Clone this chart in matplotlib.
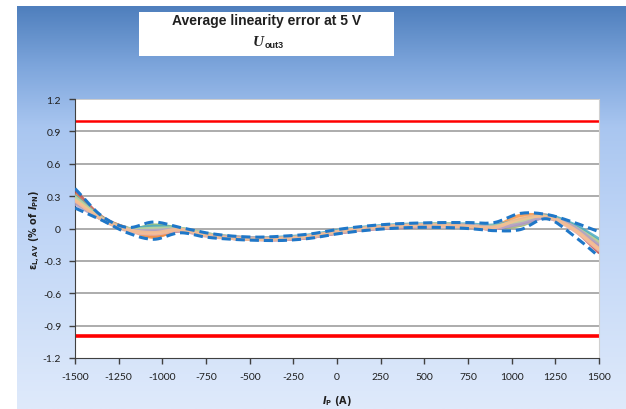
import numpy as np
import matplotlib
matplotlib.use("Agg")
import matplotlib.pyplot as plt
from matplotlib.colors import LinearSegmentedColormap
from matplotlib.patches import Rectangle

# ---------- data ----------
current = [-1500, -1350, -1200, -1050, -900, -750, -600, -450, -300, -150, 0,
           150, 300, 450, 600, 750, 900, 1050, 1200, 1350, 1500]

env_upper = [0.37, 0.12, 0.01, 0.06, 0.01, -0.04, -0.07, -0.08, -0.07, -0.05, -0.01,
             0.02, 0.04, 0.05, 0.055, 0.055, 0.055, 0.14, 0.13, 0.06, -0.03]
env_lower = [0.19, 0.08, -0.04, -0.10, -0.04, -0.08, -0.10, -0.11, -0.11, -0.09, -0.05,
             -0.02, 0.0, 0.01, 0.01, 0.0, -0.02, -0.01, 0.09, -0.06, -0.26]

sample_1 = [0.35, 0.11, 0.0, -0.07, -0.02, -0.06, -0.09, -0.10, -0.10, -0.08, -0.04,
            -0.01, 0.01, 0.02, 0.03, 0.02, 0.0, 0.08, 0.12, 0.0, -0.22]
sample_2 = [0.31, 0.10, 0.0, -0.08, -0.01, -0.06, -0.08, -0.09, -0.09, -0.07, -0.03,
            0.0, 0.02, 0.03, 0.03, 0.03, 0.02, 0.12, 0.11, 0.02, -0.18]
sample_3 = [0.28, 0.10, -0.01, 0.03, 0.0, -0.05, -0.08, -0.09, -0.09, -0.07, -0.03,
            0.0, 0.02, 0.03, 0.04, 0.03, 0.01, 0.03, 0.11, 0.03, -0.12]
sample_4 = [0.25, 0.09, -0.01, -0.03, -0.02, -0.06, -0.09, -0.10, -0.10, -0.08, -0.04,
            -0.01, 0.01, 0.02, 0.03, 0.02, 0.0, 0.05, 0.10, 0.01, -0.15]
sample_5 = [0.30, 0.10, 0.0, 0.02, 0.0, -0.05, -0.08, -0.09, -0.08, -0.06, -0.02,
            0.01, 0.03, 0.04, 0.04, 0.04, 0.03, 0.08, 0.12, 0.04, -0.10]
sample_6 = [0.27, 0.09, -0.02, -0.05, -0.02, -0.07, -0.09, -0.10, -0.10, -0.08, -0.04,
            -0.01, 0.01, 0.02, 0.02, 0.02, 0.0, 0.06, 0.10, -0.01, -0.20]
sample_7 = [0.29, 0.10, 0.0, 0.0, 0.0, -0.05, -0.08, -0.09, -0.09, -0.07, -0.03,
            0.0, 0.02, 0.03, 0.04, 0.03, 0.02, 0.07, 0.11, 0.02, -0.13]
sample_8 = [0.23, 0.09, -0.01, -0.02, -0.01, -0.06, -0.08, -0.09, -0.09, -0.07, -0.03,
            0.0, 0.02, 0.03, 0.03, 0.03, 0.01, 0.04, 0.10, 0.02, -0.16]
sample_9 = [0.26, 0.09, -0.01, -0.04, -0.01, -0.06, -0.09, -0.10, -0.09, -0.07, -0.03,
            0.0, 0.02, 0.03, 0.03, 0.02, 0.01, 0.09, 0.11, 0.0, -0.19]

limit = 1.0
x_ticks = [-1500, -1250, -1000, -750, -500, -250, 0, 250, 500, 750, 1000, 1250, 1500]
y_ticks = [1.2, 0.9, 0.6, 0.3, 0, -0.3, -0.6, -0.9, -1.2]
y_tick_labels = ["1.2", "0.9", "0.6", "0.3", "0", "-0.3", "-0.6", "-0.9", "-1.2"]

samples = [sample_1, sample_2, sample_3, sample_4, sample_5,
           sample_6, sample_7, sample_8, sample_9]
sample_colors = ["#c0504d", "#f79646", "#9bbb59", "#8064a2", "#4bacc6",
                 "#e6b9b8", "#c3d69b", "#b3a2c7", "#fac090"]


def smooth(xs, ys, n=12):
    # Catmull-Rom, close to Excel's "smoothed line" rendering
    xs = np.asarray(xs, float)
    ys = np.asarray(ys, float)
    px = np.concatenate([[2 * xs[0] - xs[1]], xs, [2 * xs[-1] - xs[-2]]])
    py = np.concatenate([[2 * ys[0] - ys[1]], ys, [2 * ys[-1] - ys[-2]]])
    ox, oy = [], []
    t = np.linspace(0, 1, n, endpoint=False)
    for i in range(1, len(px) - 2):
        for p, o in ((px, ox), (py, oy)):
            p0, p1, p2, p3 = p[i - 1], p[i], p[i + 1], p[i + 2]
            o.extend(0.5 * (2 * p1 + (-p0 + p2) * t + (2 * p0 - 5 * p1 + 4 * p2 - p3) * t ** 2
                            + (-p0 + 3 * p1 - 3 * p2 + p3) * t ** 3))
    ox.append(xs[-1])
    oy.append(ys[-1])
    return np.array(ox), np.array(oy)


W, H = 626, 410
fig = plt.figure(figsize=(W / 100, H / 100), dpi=100)
fig.patch.set_facecolor("white")

# gradient background panel
bg = fig.add_axes([17 / W, 0, 1 - 17 / W, 1 - 7 / H])
grad = LinearSegmentedColormap.from_list(
    "bg", [(0, "#4f7fbd"), (0.15, "#7ea6dc"), (0.3, "#a9c6f0"),
           (0.55, "#bfd5f6"), (1.0, "#dfeafb")])
bg.imshow(np.linspace(0, 1, 256).reshape(-1, 1), aspect="auto", cmap=grad,
          extent=[0, 1, 0, 1])
bg.axis("off")

# title box
fig.patches.append(Rectangle((139 / W, 1 - 57 / H), 255 / W, 44 / H,
                             transform=fig.transFigure, facecolor="white",
                             edgecolor="none", zorder=1))
fig.text(267 / W, 1 - 21 / H, "Average linearity error at 5 V", ha="center", va="center",
         fontsize=10, fontweight="bold", family="Liberation Sans", color="#202020")
fig.text(264 / W, 1 - 42 / H, "U", ha="right", va="center", fontsize=11,
         fontweight="bold", style="italic", family="Liberation Serif", color="#202020")
fig.text(265 / W, 1 - 46 / H, "out3", ha="left", va="center", fontsize=6.5,
         fontweight="bold", family="Liberation Sans", color="#202020")

ax = fig.add_axes([75 / W, 51 / H, 524 / W, 259 / H])
ax.set_facecolor("white")

for y in y_ticks[1:-1]:
    ax.axhline(y, color="#a6a6a6", lw=1.3, zorder=1)
ax.axhline(1.2, color="#c8c8c8", lw=1.3, zorder=1)
ax.axhline(limit, color="#ff0000", lw=1.8, zorder=2)
ax.axhline(-limit, color="#ff0000", lw=2.6, zorder=2)

for s, c in zip(samples, sample_colors):
    sx, sy = smooth(current, s)
    ax.plot(sx, sy, color=c, lw=2.6, alpha=0.85, zorder=3, solid_capstyle="round")

for env in (env_upper, env_lower):
    sx, sy = smooth(current, env)
    ax.plot(sx, sy, color="#1f77c8", lw=2.2, ls=(0, (3, 1.6)), zorder=4)

ax.set_xlim(-1500, 1500)
ax.set_ylim(-1.2, 1.2)
ax.set_xticks(x_ticks)
ax.set_xticklabels([str(v) for v in x_ticks])
ax.set_yticks(y_ticks)
ax.set_yticklabels(y_tick_labels)
ax.tick_params(direction="out", length=4, width=1, color="#404040",
               labelsize=7.5, labelcolor="#202020", pad=6)
for lab in ax.get_xticklabels() + ax.get_yticklabels():
    lab.set_family("Lato")

ax.spines["left"].set_color("#404040")
ax.spines["bottom"].set_color("#404040")
ax.spines["top"].set_visible(False)
ax.spines["right"].set_color("#d0d0d0")

ax.set_ylabel(r"$\mathbf{\varepsilon}_{\mathbf{L,AV}}$ (% of $\mathbfit{I}_{\mathbf{PN}}$)",
              fontsize=7, fontweight="bold", color="#202020")
ax.yaxis.set_label_coords(-33 / 524, 0.5)
ax.set_xlabel(r"$\mathbfit{I}_{\mathbf{P}}$ (A)", fontsize=7, fontweight="bold",
              color="#202020", labelpad=9)

fig.savefig("out.png", dpi=100)
